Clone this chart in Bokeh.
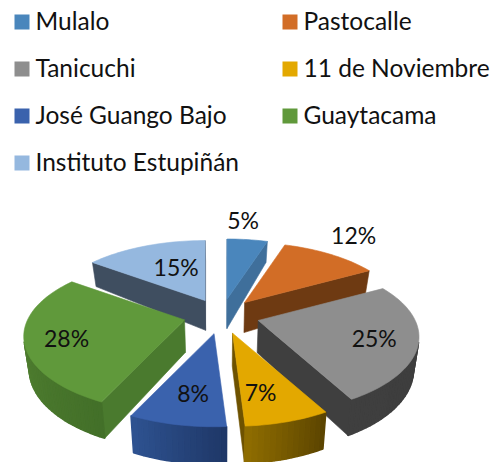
from math import sin, cos, pi
from bokeh.plotting import figure
from bokeh.embed import file_html
from bokeh.resources import INLINE
from bokeh.core.properties import value

categories = ["Mulalo", "Pastocalle", "Tanicuchi", "11 de Noviembre",
              "José Guango Bajo", "Guaytacama", "Instituto Estupiñán"]
shares = [5, 12, 25, 7, 8, 28, 15]
top_colors = ["#4A86BC", "#D26D26", "#8E8E8E", "#E3A800", "#3A62AD", "#60993B", "#95B8DF"]
side_colors = ["#3F6F9B", "#6E3A12", "#3F3F3F", "#6E5200", "#24406F", "#4A7A2E", "#3F4E60"]
rim_start = ["#3F6F9B", "#7A4214", "#3F3F3F", "#8E6C00", "#2E5290", "#5A8A36", "#3F4E60"]
rim_end = ["#3F6F9B", "#6A3610", "#3C3C3C", "#5C4500", "#1F3868", "#437029", "#3F4E60"]
label_offsets = [(16, -79), (109, -68), (116, 18), (28, 59), (-21, 59), (-118, 18), (-29, -34)]

# projected disc
CX, CY, RX, RY, PERSP, EXPLODE = 221.0, 315.0, 157.0, 73.0, 0.216, 0.24

def proj(u, v):
    f = 1 / (1 + PERSP * v)
    return RX * u * f, -RY * v * f

def lower(pt):
    x, y = pt
    d = y - CY
    return CX + (x - CX) * 0.972, y + 32 + (0.05 if d > 0 else 0.15) * d

def mix(a, b, t):
    ca = [int(a[i:i + 2], 16) for i in (1, 3, 5)]
    cb = [int(b[i:i + 2], 16) for i in (1, 3, 5)]
    return "#%02x%02x%02x" % tuple(round(x + (y - x) * t) for x, y in zip(ca, cb))

def area(q):
    return sum(q[i][0] * q[(i + 1) % len(q)][1] - q[(i + 1) % len(q)][0] * q[i][1] for i in range(len(q)))

p = figure(width=495, height=462, x_range=(0, 495), y_range=(462, 0),
           output_backend="svg", toolbar_location=None, min_border=0,
           background_fill_color="white", outline_line_color=None)
p.axis.visible = False
p.grid.visible = False

total = sum(shares)
cum = 0
slices = []
for i, s in enumerate(shares):
    a0 = 2 * pi * cum / total
    a1 = 2 * pi * (cum + s) / total
    cum += s
    mid = (a0 + a1) / 2
    dx, dy = proj(EXPLODE * sin(mid), EXPLODE * cos(mid))
    apex = (CX + dx, CY + dy)
    n = max(6, int(s * 2))
    arc = []
    for k in range(n + 1):
        t = a0 + (a1 - a0) * k / n
        ax, ay = proj(sin(t), cos(t))
        arc.append((apex[0] + ax, apex[1] + ay))
    slices.append((i, apex, arc))

def quad(pts, color, lw=0.6):
    p.patch([q[0] for q in pts], [q[1] for q in pts], fill_color=color,
            line_color=color, line_width=lw)

def draw_slice(i, apex, arc):
    for a, b in ((apex, arc[0]), (arc[-1], apex)):
        q = [a, b, lower(b), lower(a)]
        if area(q) < 0:
            quad(q, side_colors[i])
    n = len(arc) - 1
    for k in range(n):
        q = [arc[k], arc[k + 1], lower(arc[k + 1]), lower(arc[k])]
        if area(q) < 0:
            quad(q, mix(rim_start[i], rim_end[i], 1 - k / max(n - 1, 1)), lw=1.5)
    face = [apex] + arc
    quad(face, top_colors[i])

for idx in [0, 6, 1, 2, 5, 3, 4]:
    draw_slice(*slices[idx])

# data labels
lx, ly, lt = [], [], []
for (i, apex, arc), off in zip(slices, label_offsets):
    lx.append(apex[0] + off[0])
    ly.append(apex[1] + off[1])
    lt.append(f"{shares[i]}%")
p.text(lx, ly, text=lt, text_font=value("Lato"), text_font_size="23px", text_color="#111111",
       text_align="center", text_baseline="middle")

# legend
for i, name in enumerate(categories):
    col = i % 2
    row = i // 2
    sx = 14 + col * 268
    sy = 14 + row * 47
    p.patch([sx, sx + 15, sx + 15, sx], [sy, sy, sy + 15, sy + 15],
            fill_color=top_colors[i], line_color=None)
    p.text([sx + 21], [sy + 6], text=[name], text_font=value("Lato"), text_font_size="24.5px",
           text_color="#111111", text_align="left", text_baseline="middle")

open("out.html", "w").write(file_html(p, INLINE))
